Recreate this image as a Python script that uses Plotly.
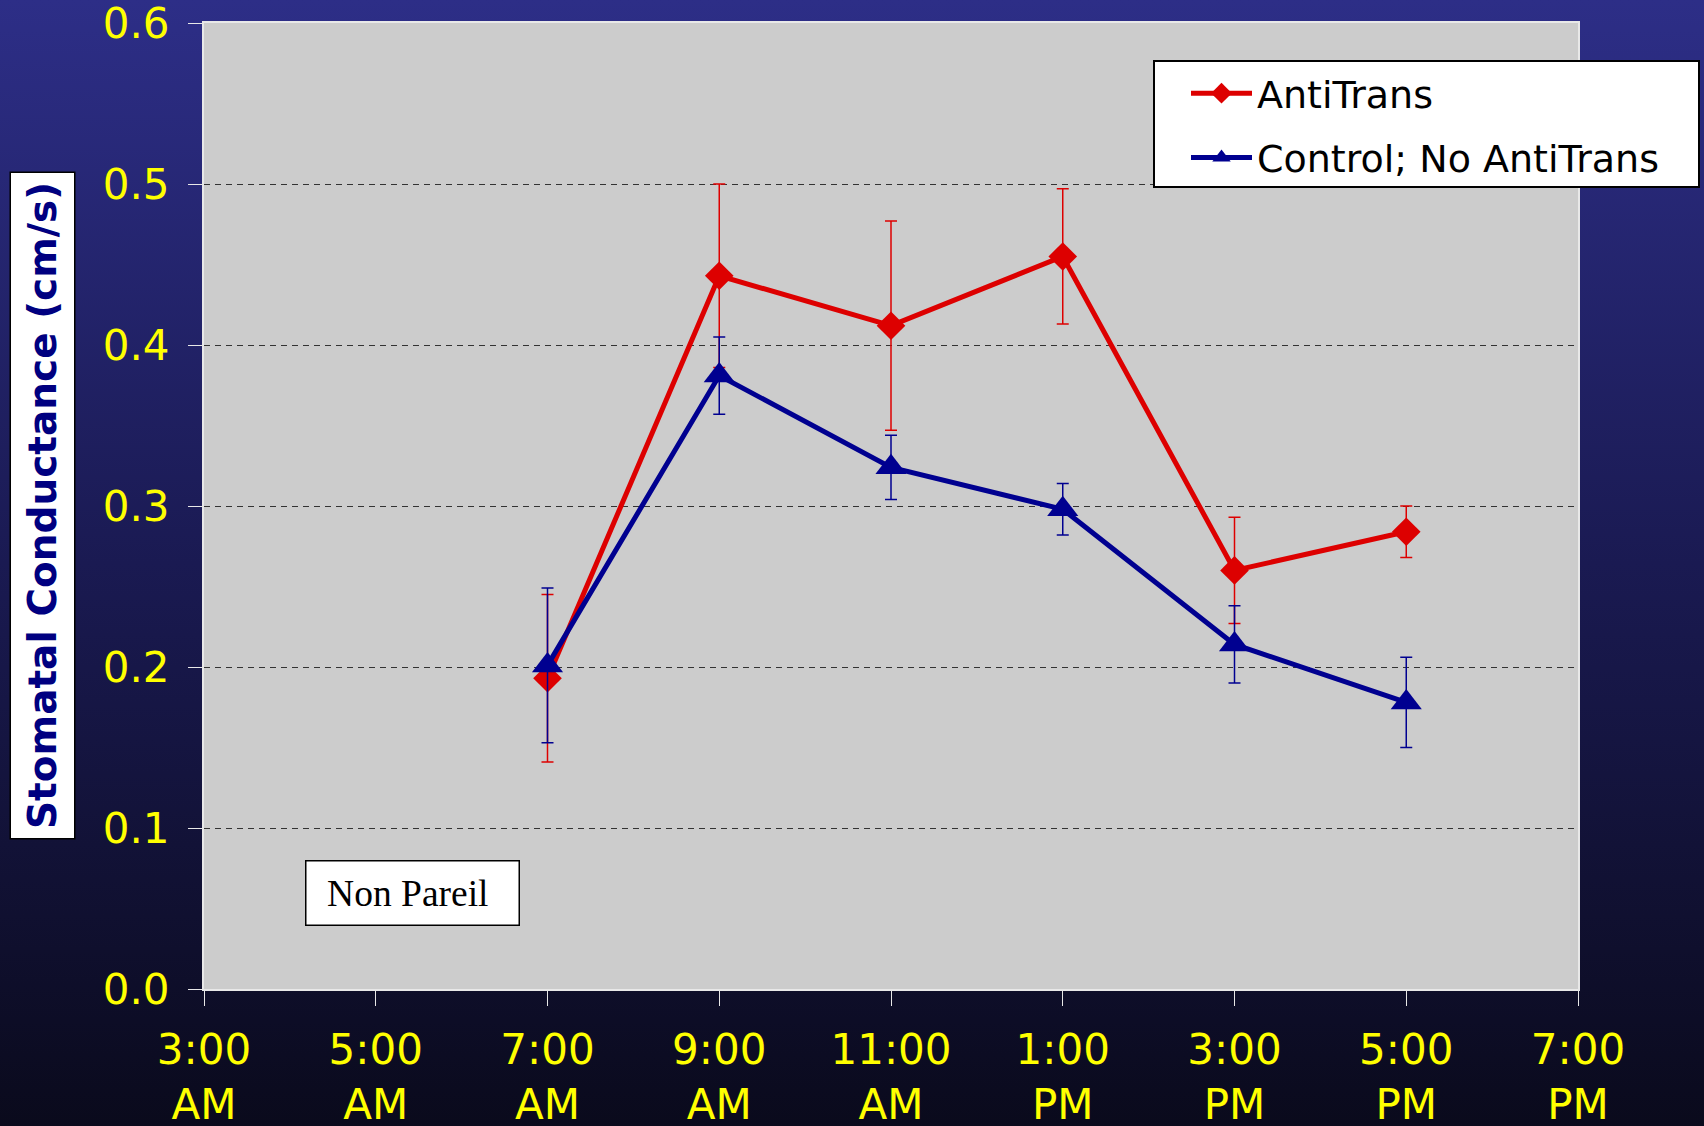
import base64
import plotly.graph_objects as go

# ---- data ----
categories = ["3:00 AM", "5:00 AM", "7:00 AM", "9:00 AM", "11:00 AM",
              "1:00 PM", "3:00 PM", "5:00 PM", "7:00 PM"]
times = ["7:00 AM", "9:00 AM", "11:00 AM", "1:00 PM", "3:00 PM", "5:00 PM"]
antitrans = [0.193, 0.443, 0.412, 0.455, 0.260, 0.284]
antitrans_err = [0.052, 0.057, 0.065, 0.042, 0.033, 0.016]
control = [0.201, 0.381, 0.324, 0.298, 0.214, 0.178]
control_err = [0.048, 0.024, 0.020, 0.016, 0.024, 0.028]
y_ticks = [0.0, 0.1, 0.2, 0.3, 0.4, 0.5, 0.6]

W, H = 1704, 1126
L, R, T, B = 204, 126, 23, 137
pw, ph = W - L - R, H - T - B


def px_x(v):
    return (v - L) / pw


def px_y(v):
    return (T + ph - v) / ph


xpos = [categories.index(t) for t in times]

fig = go.Figure()
fig.add_trace(go.Scatter(
    x=xpos, y=antitrans, name="AntiTrans", mode="lines+markers",
    legendgroup="a",
    line=dict(color="#dd0000", width=5),
    marker=dict(symbol="diamond", size=22, color="#dd0000"),
    error_y=dict(type="data", array=antitrans_err, color="#dd0000",
                 thickness=1.5, width=6),
))
fig.add_trace(go.Scatter(
    x=xpos, y=control, name="Control; No AntiTrans", mode="lines+markers",
    legendgroup="b",
    line=dict(color="#000090", width=5),
    marker=dict(symbol="triangle-up", size=27, color="#000090"),
    error_y=dict(type="data", array=control_err, color="#000090",
                 thickness=1.5, width=6),
))

svg = (f'<svg xmlns="http://www.w3.org/2000/svg" width="{W}" height="{H}" viewBox="0 0 {W} {H}" preserveAspectRatio="none">'
       '<defs><linearGradient id="g" x1="0" y1="0" x2="0" y2="1">'
       '<stop offset="0" stop-color="#2d2e87"/>'
       '<stop offset="0.5" stop-color="#1a1a52"/>'
       '<stop offset="1" stop-color="#0a0a1c"/>'
       '</linearGradient></defs>'
       f'<rect width="{W}" height="{H}" fill="url(#g)"/>'
       f'<rect x="{L}" y="{T}" width="{pw}" height="{ph}" fill="#cccccc"/></svg>')
src = "data:image/svg+xml;base64," + base64.b64encode(svg.encode()).decode()

font_fam = "DejaVu Sans"
fig.update_layout(
    width=W, height=H,
    margin=dict(l=L, r=R, t=T, b=B, pad=0, autoexpand=False),
    paper_bgcolor="#0a0a1c",
    plot_bgcolor="#cccccc",
    images=[dict(source=src, xref="paper", yref="paper",
                 x=-L / pw, y=1 + T / ph, sizex=W / pw, sizey=H / ph,
                 xanchor="left", yanchor="top", sizing="stretch", layer="below")],
    xaxis=dict(
        range=[0, len(categories) - 1],
        tickmode="array", tickvals=list(range(len(categories))),
        ticktext=[c.replace(" ", "<br>") for c in categories],
        ticks="outside", ticklen=15, tickwidth=1, tickcolor="#e8e8e8",
        tickfont=dict(family=font_fam, size=42, color="#ffff00"),
        ticklabelstandoff=8, ticklabeloverflow="allow", automargin=False,
        showgrid=False, zeroline=False,
        showline=True, linecolor="#e8e8e8", linewidth=2, mirror=True,
    ),
    yaxis=dict(
        range=[0, 0.6], tickmode="array", tickvals=y_ticks,
        ticktext=[f"{v:.1f}" for v in y_ticks],
        ticks="outside", ticklen=14, tickwidth=1, tickcolor="#e8e8e8",
        tickfont=dict(family=font_fam, size=42, color="#ffff00"),
        ticklabelstandoff=10, ticklabeloverflow="allow", automargin=False,
        showgrid=True, gridcolor="#333333", gridwidth=1, griddash="6px,5px",
        zeroline=False,
        showline=True, linecolor="#e8e8e8", linewidth=2, mirror=True,
    ),
    showlegend=True,
    legend=dict(
        x=px_x(1186), y=px_y(62), xanchor="left", yanchor="top",
        bgcolor="rgba(0,0,0,0)", borderwidth=0,
        font=dict(family=font_fam, size=38, color="black"),
        tracegroupgap=12, itemwidth=61,
    ),
    shapes=[dict(type="rect", xref="paper", yref="paper",
                 x0=px_x(1154), x1=px_x(1699), y0=px_y(187), y1=px_y(61),
                 fillcolor="white", line=dict(color="black", width=2), layer="above")],
    annotations=[
        dict(text="<b>Stomatal Conductance (cm/s)</b>", textangle=-90,
             xref="paper", yref="paper", x=px_x(42), y=px_y(505.5),
             xanchor="center", yanchor="middle", showarrow=False,
             font=dict(family=font_fam, size=39, color="#000080"),
             bgcolor="white", bordercolor="black", borderwidth=1.5, borderpad=9),
        dict(text="Non Pareil&nbsp;",
             xref="paper", yref="paper", x=px_x(412.7), y=px_y(893.3),
             xanchor="center", yanchor="middle", showarrow=False,
             width=212, height=63, align="center",
             font=dict(family="Liberation Serif", size=37.5, color="black"),
             bgcolor="white", bordercolor="black", borderwidth=1.5, borderpad=0),
    ],
)

fig.write_html("out.html", config={"displayModeBar": False},
               post_script="document.body.style.margin='0';document.body.style.overflow='hidden';")
